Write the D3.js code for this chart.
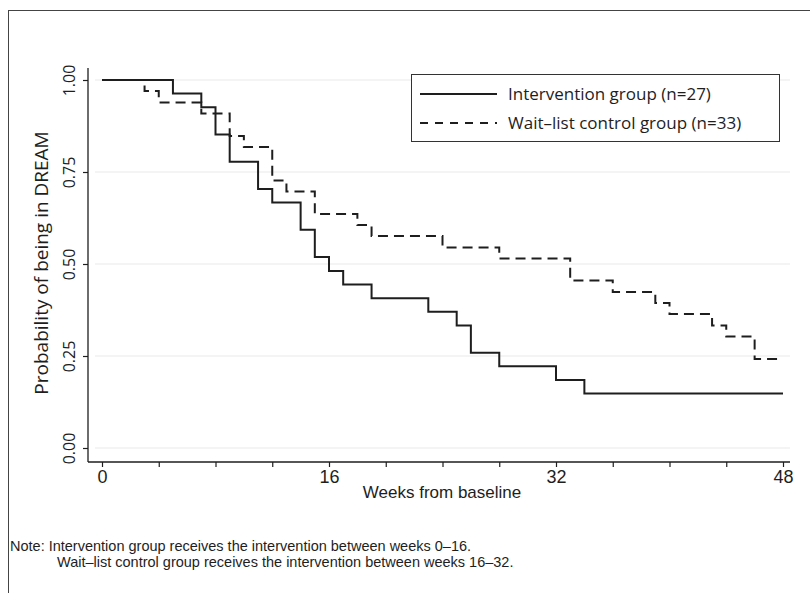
<!DOCTYPE html>
<html>
<head>
<meta charset="utf-8">
<script src="https://cdn.jsdelivr.net/npm/d3@7"></script>
<style>
  body { margin: 0; background: #fff; }
  svg { display: block; }
</style>
</head>
<body>
<svg id="chart" width="810" height="593"></svg>
<script>
// Kaplan-Meier steps
var intWeeks = [0, 5, 7, 8, 9, 11, 12, 14, 15, 16, 17, 19, 23, 25, 26, 28, 32, 34, 48];
var intProb  = [1, 0.963, 0.926, 0.852, 0.778, 0.704, 0.667, 0.593, 0.519, 0.481, 0.444, 0.407, 0.370, 0.333, 0.259, 0.222, 0.185, 0.148, 0.148];
var ctlWeeks = [0, 3, 4, 7, 9, 10, 12, 13, 15, 18, 19, 24, 28, 33, 36, 39, 40, 43, 44, 46, 48];
var ctlProb  = [1, 0.970, 0.939, 0.909, 0.848, 0.818, 0.727, 0.697, 0.636, 0.606, 0.576, 0.545, 0.515, 0.455, 0.424, 0.394, 0.364, 0.333, 0.303, 0.242, 0.242];

var yTicks = [0, 0.25, 0.5, 0.75, 1];
var xLabelTicks = [0, 16, 32, 48];
var xMinorTicks = d3.range(0, 49, 4);
var seriesNames = ["Intervention group (n=27)", "Wait\u2013list control group (n=33)"];
var noteLines = ["Note: Intervention group receives the intervention between weeks 0\u201316.",
                 "Wait\u2013list control group receives the intervention between weeks 16\u201332."];

var svg = d3.select("#chart");
var narrow = "'Liberation Sans Narrow', 'Arial Narrow', sans-serif";
var wide = "'Open Sans', 'Noto Sans', sans-serif";
var ink = "#1e1e1e";

// outer frame
svg.append("rect")
    .attr("x", 8.5).attr("y", 10.5)
    .attr("width", 820).attr("height", 600)
    .attr("fill", "none").attr("stroke", "#444").attr("stroke-width", 1);

var x = d3.scaleLinear().domain([0, 48]).range([102, 783]);
var y = d3.scaleLinear().domain([0, 1]).range([448, 80]);
var axisX = 88, axisY = 462;

// gridlines
svg.append("g").selectAll("line")
    .data(yTicks)
    .enter().append("line")
    .attr("x1", 95).attr("x2", 790)
    .attr("y1", function(d) { return y(d); })
    .attr("y2", function(d) { return y(d); })
    .attr("stroke", "#eaeaea").attr("stroke-width", 1.2);

// y axis
var gy = svg.append("g").attr("transform", "translate(" + axisX + ",0)");
gy.call(d3.axisLeft(y).tickValues(yTicks).tickSize(5).tickFormat(d3.format(".2f")));
gy.select(".domain").attr("d", "M0,68V" + axisY).attr("stroke", ink).attr("stroke-width", 1.3);
gy.selectAll(".tick line").attr("stroke", ink).attr("stroke-width", 1.2);
gy.selectAll(".tick text")
    .attr("x", 0).attr("y", 0)
    .attr("transform", "translate(-13,0) rotate(-90)")
    .attr("text-anchor", "middle")
    .attr("dy", "0")
    .style("font-family", wide).style("font-size", "16px").attr("fill", ink);

svg.append("text")
    .attr("transform", "translate(48,263) rotate(-90)")
    .attr("text-anchor", "middle")
    .style("font-family", wide).style("font-size", "19px").attr("fill", ink)
    .text("Probability of being in DREAM");

// x axis
var gx = svg.append("g").attr("transform", "translate(0," + axisY + ")");
gx.call(d3.axisBottom(x).tickValues(xMinorTicks).tickSize(5)
    .tickFormat(function(d) { return xLabelTicks.indexOf(d) >= 0 ? d : ""; }));
gx.select(".domain").attr("d", "M" + axisX + ",0H790").attr("stroke", ink).attr("stroke-width", 1.3);
gx.selectAll(".tick line").attr("stroke", ink).attr("stroke-width", 1.2);
gx.selectAll(".tick text")
    .attr("y", 8)
    .style("font-family", narrow).style("font-size", "18px").attr("fill", ink);

svg.append("text")
    .attr("x", 442).attr("y", 498)
    .attr("text-anchor", "middle")
    .style("font-family", narrow).style("font-size", "17px").attr("fill", ink)
    .text("Weeks from baseline");

// survival curves
var line = d3.line()
    .x(function(d) { return x(d[0]); })
    .y(function(d) { return y(d[1]); })
    .curve(d3.curveStepAfter);

var series = [
  { name: seriesNames[0], pts: d3.zip(intWeeks, intProb), dash: null },
  { name: seriesNames[1], pts: d3.zip(ctlWeeks, ctlProb), dash: "10,6" }
];

svg.append("g").selectAll("path")
    .data(series)
    .enter().append("path")
    .attr("d", function(d) { return line(d.pts); })
    .attr("fill", "none")
    .attr("stroke", ink)
    .attr("stroke-width", 2)
    .attr("stroke-dasharray", function(d) { return d.dash; });

// legend
var lg = svg.append("g");
lg.append("rect")
    .attr("x", 411.5).attr("y", 74.5).attr("width", 368).attr("height", 67)
    .attr("fill", "#fff").attr("stroke", "#333").attr("stroke-width", 1);
var rows = lg.selectAll(".row")
    .data(series)
    .enter().append("g")
    .attr("class", "row")
    .attr("transform", function(d, i) { return "translate(0," + (94 + i * 29) + ")"; });
rows.append("line")
    .attr("x1", 420).attr("x2", 497)
    .attr("stroke", ink).attr("stroke-width", 2)
    .attr("stroke-dasharray", function(d) { return d.dash ? "8,7" : null; });
rows.append("text")
    .attr("x", 508).attr("dy", "0.35em")
    .style("font-family", wide).style("font-size", "17px").attr("fill", ink)
    .text(function(d) { return d.name; });

// note
svg.append("g").selectAll("text")
    .data(noteLines)
    .enter().append("text")
    .attr("x", function(d, i) { return i === 0 ? 10 : 57; })
    .attr("y", function(d, i) { return 551 + i * 16; })
    .style("font-family", narrow).style("font-size", "14.5px").attr("fill", ink)
    .text(function(d) { return d; });
</script>
</body>
</html>
